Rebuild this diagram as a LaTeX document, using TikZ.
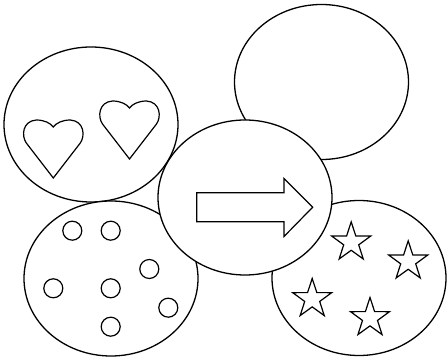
\documentclass[tikz,border=0pt]{standalone}
\usetikzlibrary{shapes.geometric}

\begin{document}
\begin{tikzpicture}[x=1pt, y=1pt, line width=1.3pt,
  blob/.style={draw, ellipse, fill=white, minimum width=174pt, minimum height=155pt, inner sep=0pt},
  dot/.style={draw, circle, minimum size=19pt, inner sep=0pt, line width=1.2pt},
  starmark/.style={draw, star, star points=5, star point ratio=2.6, minimum size=41pt, inner sep=0pt, line width=1.2pt},
  heart/.pic={\draw[line width=1.2pt, line join=miter] (0,-58) -- (-27,-23)
      .. controls (-32,-16) and (-31,-1) .. (-17,0) .. controls (-9,0) and (-3,-3) .. (0,-7)
      .. controls (3,-3) and (9,0) .. (17,0) .. controls (31,-1) and (32,-16) .. (27,-23) -- cycle;}]
  \useasboundingbox (0,0) rectangle (448,359);
  % outer blobs
  \node[blob] (blank) at (321.5,277) {};
  \node[blob] (hearts) at (91,234.5) {};
  \node[blob] (dots) at (111,80.5) {};
  \node[blob] (stars) at (359,81) {};
  % middle blob on top
  \node[blob] (middle) at (245,161.5) {};
  \draw[line width=1.2pt] (196.7,137.3) -- (284,137.3) -- (284,122.5) -- (312.7,151.8)
    -- (284,180.6) -- (284,166.3) -- (196.7,166.3) -- cycle;
  % hearts
  \pic at (53.3,239) {heart};
  \pic at (129.5,258) {heart};
  % dots
  \node[dot] (d1) at (72.3,128.3) {};
  \node[dot] (d2) at (110.7,128.3) {};
  \node[dot] (d3) at (149.3,90) {};
  \node[dot] (d4) at (53.3,70.7) {};
  \node[dot] (d5) at (110.7,70.7) {};
  \node[dot] (d6) at (168.3,51.3) {};
  \node[dot] (d7) at (110.7,32.3) {};
  % stars
  \node[starmark] (s1) at (351.2,116.6) {};
  \node[starmark] (s2) at (408.2,97.6) {};
  \node[starmark] (s3) at (312.2,60) {};
  \node[starmark] (s4) at (370,41) {};
\end{tikzpicture}
\end{document}
